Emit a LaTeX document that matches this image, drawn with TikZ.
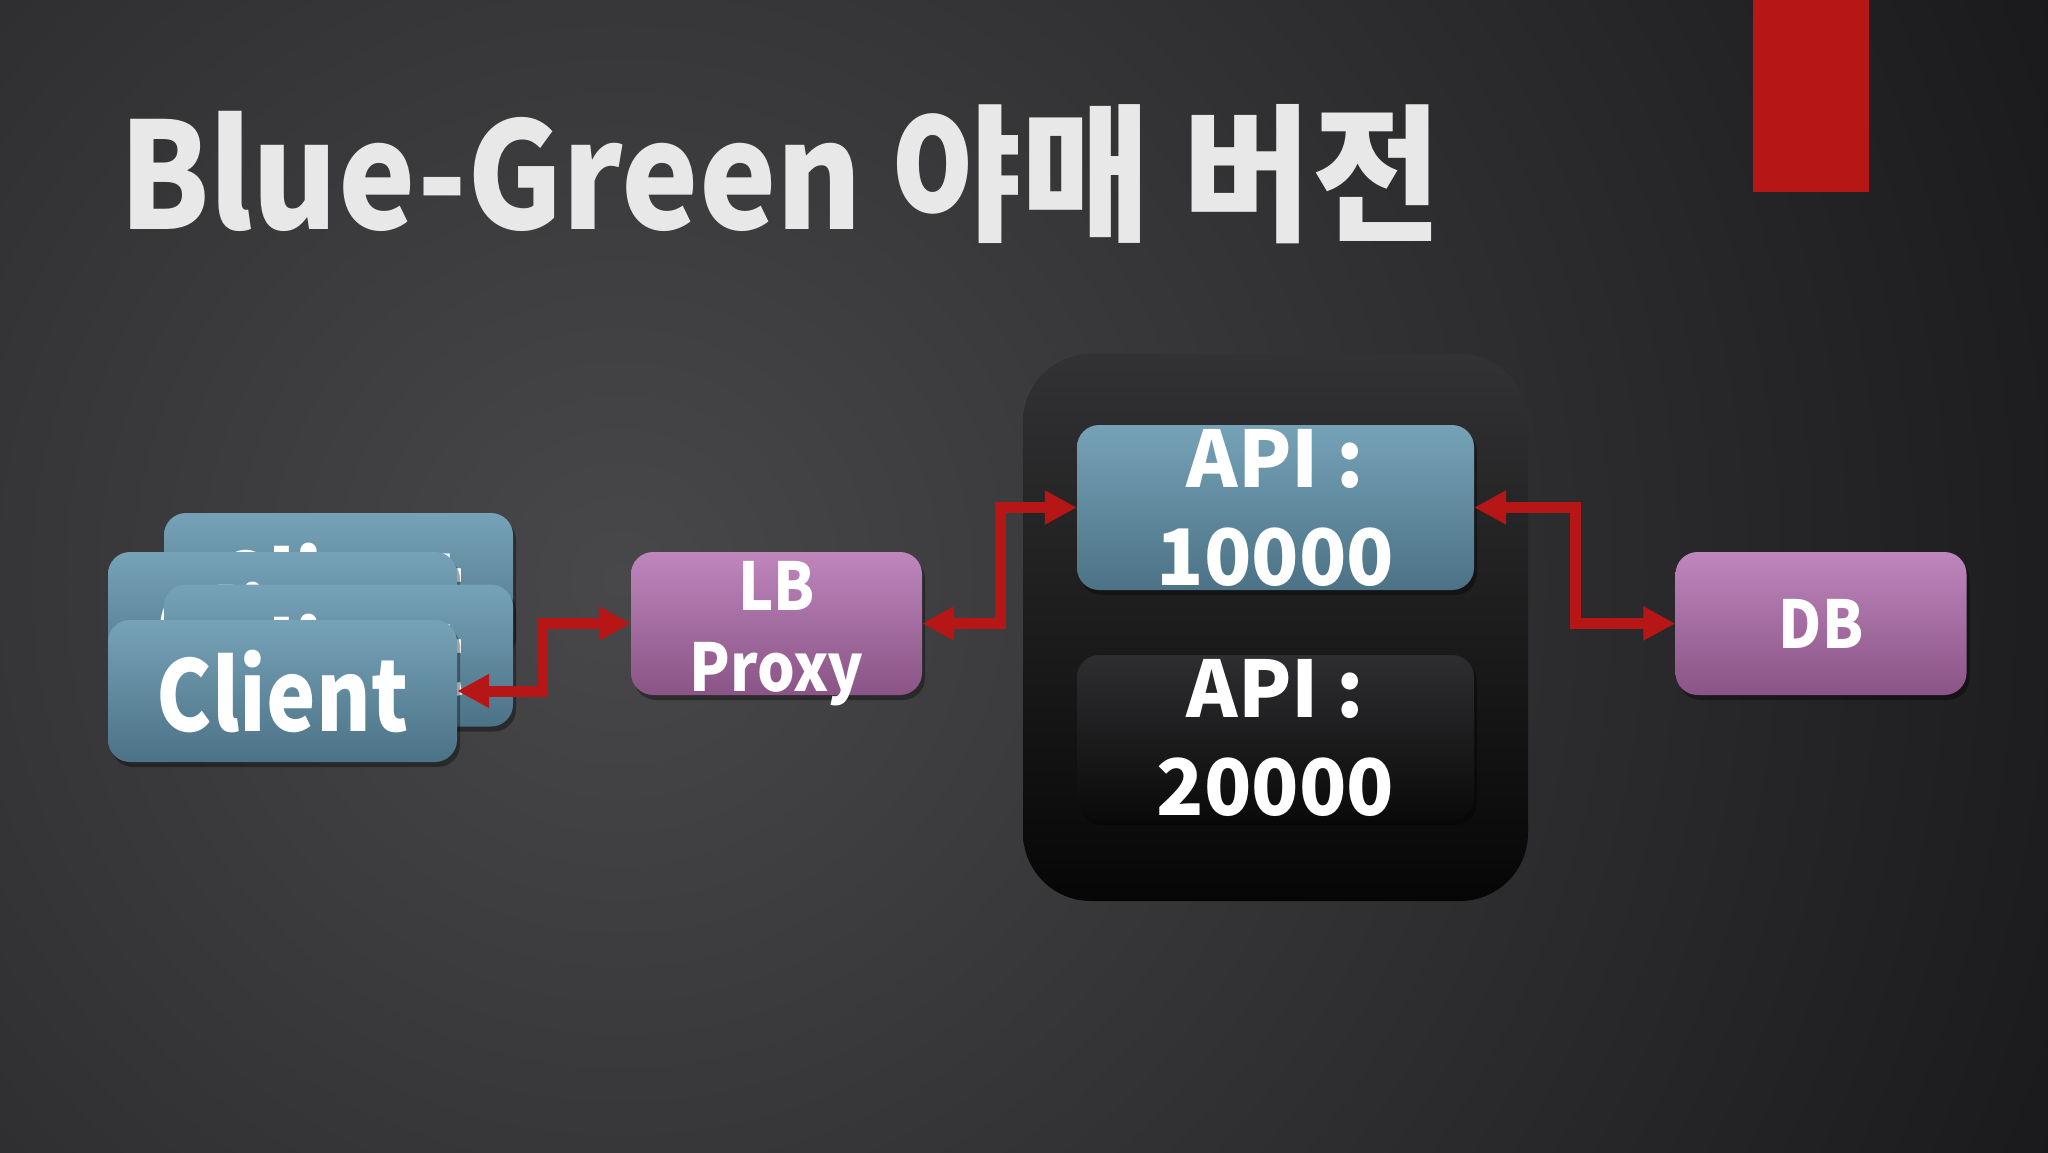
\documentclass[tikz,border=0pt]{standalone}
\usepackage{fontspec}
\usepackage{graphicx}
\setmainfont{Noto Sans CJK KR}
\usetikzlibrary{arrows.meta,shadows}
\definecolor{bgdark}{RGB}{17,17,19}
\definecolor{bgmid}{RGB}{72,72,74}
\definecolor{bluetop}{RGB}{118,162,183}
\definecolor{bluebot}{RGB}{76,114,134}
\definecolor{pinktop}{RGB}{190,134,188}
\definecolor{pinkbot}{RGB}{138,84,134}
\definecolor{darktop}{RGB}{46,46,49}
\definecolor{darkbot}{RGB}{10,10,10}
\definecolor{conttop}{RGB}{50,50,52}
\definecolor{contmid}{RGB}{30,30,31}
\definecolor{contbot}{RGB}{6,6,6}
\definecolor{arrowred}{RGB}{182,22,22}
\definecolor{titlegray}{RGB}{232,232,232}
\newcommand{\narrowtxt}[2]{\scalebox{#1}[1]{#2}}
\begin{document}
\begin{tikzpicture}[x=1pt,y=-1pt,
  boxbase/.style={rounded corners=22pt, inner sep=0pt, text=white,
    drop shadow={shadow xshift=3pt, shadow yshift=-5pt, opacity=0.35, fill=black}},
  clientbox/.style={boxbase, top color=bluetop, bottom color=bluebot,
    minimum width=349pt, minimum height=142pt,
    font=\bfseries\fontsize{98}{100}\selectfont},
  pinkbox/.style={boxbase, top color=pinktop, bottom color=pinkbot,
    minimum width=291pt, minimum height=143pt, align=center,
    font=\bfseries\fontsize{66}{81}\selectfont},
  apibox/.style={boxbase, minimum width=397pt, minimum height=165pt, align=center,
    font=\bfseries\fontsize{78}{98}\selectfont},
  link/.style={draw=arrowred, line width=11pt,
    {Triangle[length=32pt,width=32pt]}-{Triangle[length=32pt,width=32pt]}}
]
\useasboundingbox (0,0) rectangle (2048,1152);
\clip (0,0) rectangle (2048,1152);
\fill[bgdark] (0,0) rectangle (2048,1152);
\shade[inner color=bgmid, outer color=bgdark] (620,580) circle (1850);

% red tab
\fill[arrowred] (1753,0) rectangle (1869,192);

% title
\node[anchor=base west, inner sep=0pt, text=titlegray,
  font=\bfseries\fontsize{148}{150}\selectfont] (title) at (119,229)
  {\narrowtxt{0.88}{Blue-Green}\hspace{0.2em}\narrowtxt{0.95}{야매 버전}};

% client stack
\node[clientbox] (cA) at (338.5,584) {\narrowtxt{0.85}{Client}};
\node[clientbox] (cB) at (282.5,623) {\narrowtxt{0.85}{Client}};
\node[clientbox] (cC) at (338.5,655.5) {\narrowtxt{0.85}{Client}};
\node[clientbox] (cD) at (282.5,691) {\narrowtxt{0.85}{Client}};

% LB
\node[pinkbox] (lb) at (776.5,623.5) {};
\node[white, font=\bfseries\fontsize{66}{81}\selectfont, align=center, inner sep=0pt,
  anchor=base] (lbtxt) at (776.5,691) {\narrowtxt{0.9}{LB}\\\narrowtxt{0.9}{Proxy}};

% API container
\node[rounded corners=68pt, minimum width=505pt, minimum height=547pt,
  top color=conttop, middle color=contmid, bottom color=contbot] (cont) at (1275.5,627.5) {};
\node[apibox, top color=bluetop, bottom color=bluebot] (api1) at (1275.5,507.5) {API :\\10000};
\node[apibox, top color=darktop, bottom color=darkbot] (api2) at (1275.5,737.5) {API :\\20000};

% DB
\node[pinkbox] (db) at (1821,623.5) {\narrowtxt{0.9}{DB}};

% connectors
\draw[link] (cD.east) -- ++(85,0) |- (lb.west);
\draw[link] (lb.east) -- ++(78,0) |- (api1.west);
\draw[link] (api1.east) -- ++(101,0) |- (db.west);
\end{tikzpicture}
\end{document}
